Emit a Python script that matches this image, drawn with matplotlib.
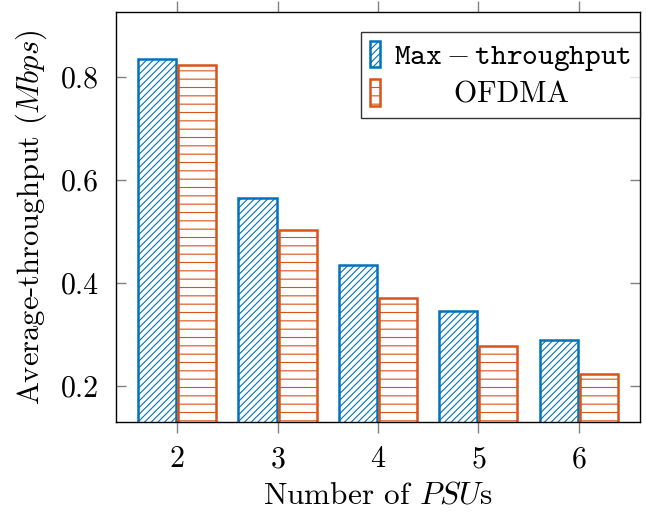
import numpy as np
import matplotlib
matplotlib.use("Agg")
import matplotlib.pyplot as plt

plt.rcParams['font.family'] = ['cmr10', 'DejaVu Serif']
plt.rcParams['mathtext.fontset'] = 'cm'
plt.rcParams['axes.formatter.use_mathtext'] = True
plt.rcParams['axes.unicode_minus'] = False
plt.rcParams['hatch.linewidth'] = 0.8

# data
psus = [2, 3, 4, 5, 6]
max_tp = [0.835, 0.565, 0.435, 0.346, 0.289]
ofdma = [0.823, 0.503, 0.371, 0.278, 0.223]
labels = [r'$\mathtt{Max-throughput}$', '      OFDMA']

blue = '#0072BD'
orange = '#D95319'
fs = 21.5

fig = plt.figure(figsize=(6.46, 5.13), dpi=100)
ax = fig.add_axes([0.1796, 0.1774, 0.811, 0.799])

x = np.array(psus)
w = 0.38
ax.bar(x - 0.2, max_tp, w, bottom=0, facecolor='white', edgecolor=blue,
       hatch='/////', linewidth=1.8, label=labels[0])
ax.bar(x + 0.2, ofdma, w, bottom=0, facecolor='white', edgecolor=orange,
       hatch='--', linewidth=1.8, label=labels[1])

ax.set_xlim(1.39, 6.61)
ax.set_ylim(0.13, 0.926)
ax.set_xticks(psus)
ax.set_yticks([0.2, 0.4, 0.6, 0.8])
ax.set_yticklabels(['0.2', '0.4', '0.6', '0.8'])
ax.tick_params(axis='x', direction='out', top=True, length=8, width=1,
               color='#808080', labelsize=fs, pad=9)
ax.tick_params(axis='y', direction='in', right=True, length=7.5, width=1,
               color='#808080', labelsize=fs, pad=12)
for s in ax.spines.values():
    s.set_linewidth(1.0)

ax.set_xlabel(r'Number of $PSU$s', fontsize=22.5, labelpad=6)
ax.set_ylabel(r'Average-throughput ($Mbps$)', fontsize=22, labelpad=9)

leg = ax.legend(loc='upper right', bbox_to_anchor=(1.0, 0.952), fontsize=21.5,
                frameon=True, fancybox=False, edgecolor='black',
                handlelength=0.35, handleheight=1.0, handletextpad=0.45,
                borderpad=0.3, labelspacing=0.2, borderaxespad=0)
leg.get_frame().set_linewidth(1.0)

fig.savefig('out.png', dpi=100)
